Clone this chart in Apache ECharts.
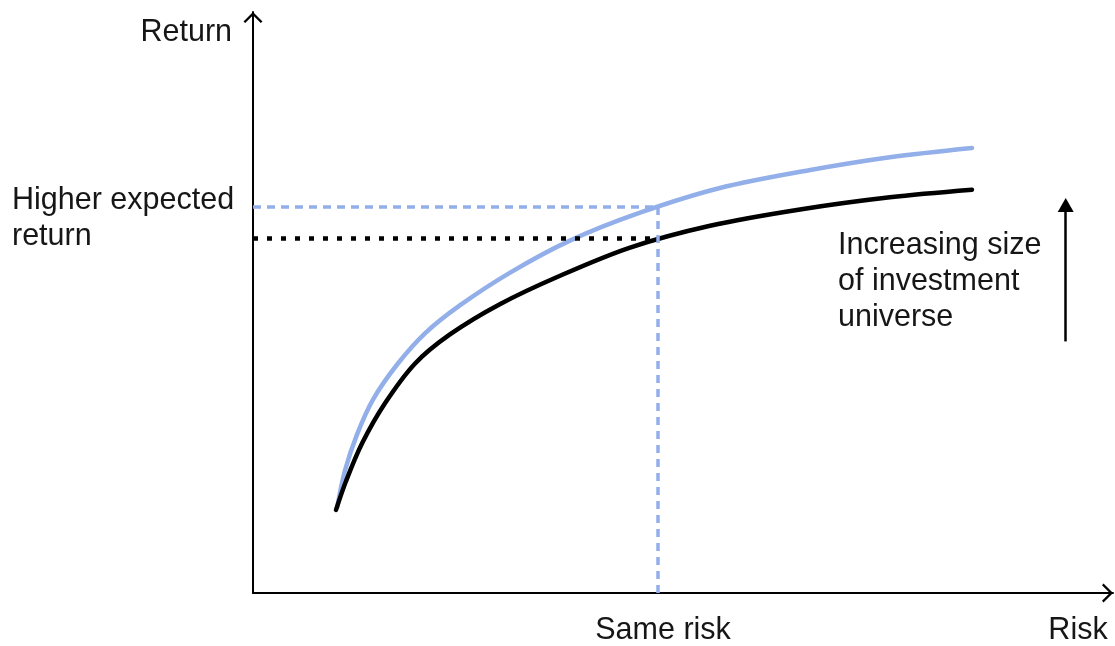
<!DOCTYPE html>
<html>
<head>
<meta charset="utf-8">
<script src="https://cdn.jsdelivr.net/npm/echarts@6/dist/echarts.min.js"></script>
<style>
html,body{margin:0;padding:0;background:#fff;}
#chart{width:1115px;height:646px;}
</style>
</head>
<body>
<div id="chart"></div>
<script>
// Risk / return values (axis units 0–100)
const riskBlack   = [9.65, 10.8, 12.7, 15.35, 18.85, 22.9, 28.7, 35.7, 43.85, 53.15, 63.6, 74.05, 83.6];
const returnBlack = [14.3, 19.2, 25.8, 32.65, 39.5, 44.5, 49.7, 54.6, 59.45, 63.2, 66.0, 68.1, 69.4];
const riskBlue    = [9.8, 10.7, 12.1, 13.95, 16.85, 20.0, 24.05, 29.9, 36.85, 45.0, 54.3, 64.8, 74.05, 83.6];
const returnBlue  = [14.8, 21.1, 27.3, 33.3, 39.5, 44.7, 49.5, 55.15, 60.65, 65.45, 69.7, 72.8, 75.0, 76.6];
const sameRisk = 47.1;
const blueReturnAtSameRisk = 66.5;
const blackReturnAtSameRisk = 61.0;
const arrowRisk = 94.5;
const arrowReturn = [43.3, 66.8];

const FONT = "'Liberation Sans', Arial, sans-serif";
const FS = 30.5;
const TXT = '#161616';
const BLUE = '#93afe9';
const chevron = 'path://M0,10 L10,0 L20,10 L18.2,11.6 L10,3.4 L1.8,11.6 Z';

const chart = echarts.init(document.getElementById('chart'), null, {renderer:'canvas'});
chart.setOption({
  animation:false,
  backgroundColor:'#fff',
  grid:{left:253, right:2, top:12, bottom:52},
  xAxis:{
    type:'value', min:0, max:100,
    name:'Risk', nameLocation:'end', nameGap:-35,
    nameTextStyle:{fontFamily:FONT, fontSize:FS, color:TXT, align:'center', verticalAlign:'top', padding:[22,0,0,0]},
    axisLine:{show:true, onZero:false, symbol:['none', chevron], symbolSize:[20,11], symbolOffset:[0,-5.5], lineStyle:{color:'#000', width:2}},
    axisTick:{show:false}, axisLabel:{show:false}, splitLine:{show:false}
  },
  yAxis:{
    type:'value', min:0, max:100,
    name:'Return', nameLocation:'end', nameGap:-21,
    nameTextStyle:{fontFamily:FONT, fontSize:FS, color:TXT, align:'right', verticalAlign:'middle', padding:[0,21,0,0]},
    axisLine:{show:true, onZero:false, symbol:['none', chevron], symbolSize:[20,11], symbolOffset:[0,-5.5], lineStyle:{color:'#000', width:2}},
    axisTick:{show:false}, axisLabel:{show:false}, splitLine:{show:false}
  },
  graphic:[
    {type:'text', left:12, top:183, style:{text:'Higher expected\nreturn', font:FS+'px '+FONT, fill:TXT, lineHeight:36}},
    {type:'text', left:838, top:228, style:{text:'Increasing size\nof investment\nuniverse', font:FS+'px '+FONT, fill:TXT, lineHeight:36}}
  ],
  series:[
    {
      type:'line', name:'Larger universe', smooth:0.33, showSymbol:false, z:2,
      data:riskBlue.map((r,i)=>[r, returnBlue[i]]),
      lineStyle:{color:BLUE, width:4.5, cap:'round', join:'round'},
      markLine:{
        silent:true, symbol:'none', animation:false, z:5,
        lineStyle:{color:BLUE, width:3.5, type:[8,6], cap:'butt'},
        data:[
          [{coord:[0, blueReturnAtSameRisk]}, {coord:[sameRisk, blueReturnAtSameRisk]}],
          [{coord:[sameRisk, 0], label:{show:true, position:'start', formatter:'Same risk', fontFamily:FONT, fontSize:FS, color:TXT, distance:22, offset:[5,0]}},
           {coord:[sameRisk, blueReturnAtSameRisk]}]
        ],
        label:{show:false}
      }
    },
    {
      type:'line', name:'Smaller universe', smooth:0.33, showSymbol:false, z:3,
      data:riskBlack.map((r,i)=>[r, returnBlack[i]]),
      lineStyle:{color:'#000', width:4.5, cap:'round', join:'round'},
      markLine:{
        silent:true, symbol:'none', animation:false, z:4,
        label:{show:false},
        data:[
          [{coord:[0, blackReturnAtSameRisk], lineStyle:{color:'#000', width:4.5, type:[5,9], cap:'butt'}},
           {coord:[sameRisk, blackReturnAtSameRisk]}],
          [{coord:[arrowRisk, arrowReturn[0]], symbol:'none', lineStyle:{color:'#000', width:2.5, type:'solid'}},
           {coord:[arrowRisk, arrowReturn[1]], symbol:'triangle', symbolSize:[16,14]}]
        ]
      }
    }
  ]
});
</script>
</body>
</html>
